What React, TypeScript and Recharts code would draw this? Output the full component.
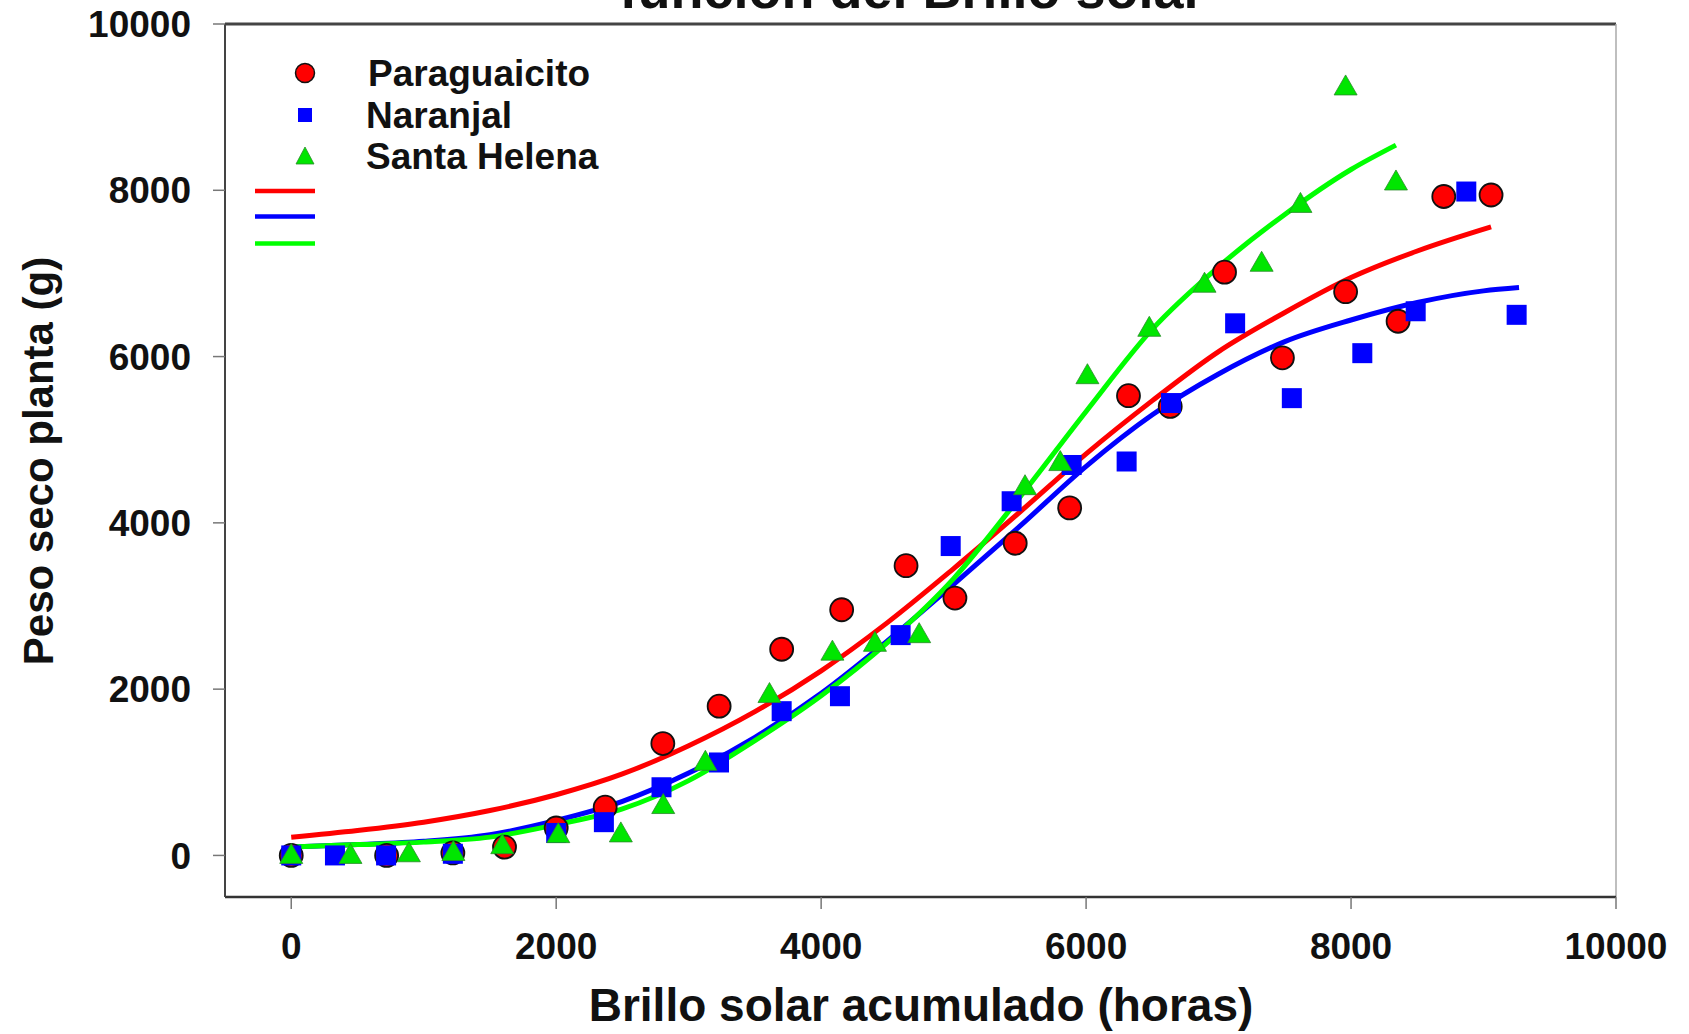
import React from 'react';
import { ComposedChart, Scatter, Line, XAxis, YAxis, ReferenceLine } from 'recharts';

const xTicks = [0, 2000, 4000, 6000, 8000, 10000];
const yTicks = [0, 2000, 4000, 6000, 8000, 10000];

const seriesNames = ['Paraguaicito', 'Naranjal', 'Santa Helena'];

const paraguaicito = [
  { x: 0, y: 0 }, { x: 720, y: 0 }, { x: 1220, y: 30 }, { x: 1610, y: 100 },
  { x: 2000, y: 330 }, { x: 2370, y: 580 }, { x: 2805, y: 1345 }, { x: 3230, y: 1795 },
  { x: 3702, y: 2480 }, { x: 4155, y: 2955 }, { x: 4641, y: 3485 }, { x: 5010, y: 3095 },
  { x: 5465, y: 3755 }, { x: 5876, y: 4180 }, { x: 6320, y: 5530 }, { x: 6635, y: 5400 },
  { x: 7045, y: 7015 }, { x: 7482, y: 5985 }, { x: 7959, y: 6780 }, { x: 8355, y: 6425 },
  { x: 8700, y: 7925 }, { x: 9057, y: 7943 },
];

const naranjal = [
  { x: 0, y: 0 }, { x: 330, y: 0 }, { x: 716, y: 0 }, { x: 1220, y: 20 },
  { x: 2000, y: 270 }, { x: 2360, y: 400 }, { x: 2795, y: 820 }, { x: 3229, y: 1118 },
  { x: 3702, y: 1735 }, { x: 4142, y: 1915 }, { x: 4600, y: 2650 }, { x: 4978, y: 3721 },
  { x: 5438, y: 4260 }, { x: 5891, y: 4696 }, { x: 6306, y: 4738 }, { x: 6641, y: 5441 },
  { x: 7125, y: 6400 }, { x: 7553, y: 5500 }, { x: 8085, y: 6041 }, { x: 8488, y: 6545 },
  { x: 8870, y: 7985 }, { x: 9250, y: 6502 },
];

const santaHelena = [
  { x: 0, y: 0 }, { x: 447, y: 0 }, { x: 888, y: 20 }, { x: 1224, y: 35 },
  { x: 1593, y: 117 }, { x: 2016, y: 250 }, { x: 2488, y: 259 }, { x: 2808, y: 600 },
  { x: 3126, y: 1120 }, { x: 3610, y: 1935 }, { x: 4085, y: 2445 }, { x: 4406, y: 2551 },
  { x: 4740, y: 2655 }, { x: 5539, y: 4435 }, { x: 5805, y: 4725 }, { x: 6010, y: 5770 },
  { x: 6477, y: 6340 }, { x: 6894, y: 6870 }, { x: 7325, y: 7122 }, { x: 7618, y: 7830 },
  { x: 7959, y: 9243 }, { x: 8339, y: 8100 },
];

const fitParaguaicito = [
  { x: 0, y: 220 }, { x: 500, y: 300 }, { x: 1000, y: 400 }, { x: 1500, y: 540 },
  { x: 2000, y: 730 }, { x: 2500, y: 980 }, { x: 3000, y: 1320 }, { x: 3500, y: 1730 },
  { x: 4000, y: 2220 }, { x: 4500, y: 2800 }, { x: 5000, y: 3450 }, { x: 5500, y: 4130 },
  { x: 6000, y: 4830 }, { x: 6500, y: 5470 }, { x: 7000, y: 6060 }, { x: 7500, y: 6530 },
  { x: 8000, y: 6950 }, { x: 8500, y: 7270 }, { x: 9057, y: 7560 },
];

const fitNaranjal = [
  { x: 0, y: 100 }, { x: 500, y: 130 }, { x: 1000, y: 170 }, { x: 1500, y: 250 },
  { x: 2000, y: 420 }, { x: 2500, y: 650 }, { x: 3000, y: 990 }, { x: 3500, y: 1420 },
  { x: 4000, y: 1950 }, { x: 4500, y: 2580 }, { x: 5000, y: 3260 }, { x: 5500, y: 3960 },
  { x: 6000, y: 4680 }, { x: 6500, y: 5300 }, { x: 7000, y: 5790 }, { x: 7500, y: 6180 },
  { x: 8000, y: 6440 }, { x: 8500, y: 6650 }, { x: 9000, y: 6790 }, { x: 9268, y: 6830 },
];

const fitSantaHelena = [
  { x: 0, y: 100 }, { x: 500, y: 130 }, { x: 1000, y: 160 }, { x: 1500, y: 220 },
  { x: 2000, y: 370 }, { x: 2500, y: 560 }, { x: 3000, y: 900 }, { x: 3500, y: 1380 },
  { x: 4000, y: 1920 }, { x: 4500, y: 2560 }, { x: 5000, y: 3330 }, { x: 5500, y: 4310 },
  { x: 6000, y: 5340 }, { x: 6500, y: 6330 }, { x: 7000, y: 7080 }, { x: 7500, y: 7710 },
  { x: 8000, y: 8250 }, { x: 8339, y: 8543 },
];

const FONT = '"Liberation Sans", Arial, Helvetica, sans-serif';
const RED = '#ff0000';
const BLUE = '#0000ff';
const GREEN = '#00e600';
const GREEN_LINE = '#00ff00';

const CircleShape = (props: any) => {
  const { cx, cy } = props;
  if (cx == null || cy == null) return null;
  return <circle cx={cx} cy={cy} r={11.5} fill={RED} stroke="#111" strokeWidth={1.8} />;
};
const SquareShape = (props: any) => {
  const { cx, cy } = props;
  if (cx == null || cy == null) return null;
  const s = 20;
  return <rect x={cx - s / 2} y={cy - s / 2} width={s} height={s} fill={BLUE} />;
};
const TriangleShape = (props: any) => {
  const { cx, cy } = props;
  if (cx == null || cy == null) return null;
  const w = 23, h = 20;
  return (
    <polygon
      points={`${cx},${cy - h * 0.6} ${cx - w / 2},${cy + h * 0.4} ${cx + w / 2},${cy + h * 0.4}`}
      fill={GREEN}
      stroke="#2a8a2a"
      strokeWidth={0.8}
    />
  );
};

const tickStyle = { fontSize: 37, fontWeight: 700, fill: '#111', fontFamily: FONT };

export default function App() {
  return (
    <div style={{ position: 'absolute', left: 0, top: 0, width: 1689, height: 1034, background: '#fff' }}>
      <ComposedChart
        width={1689}
        height={1034}
        margin={{ top: 24, right: 73, bottom: 0, left: 0 }}
      >
        <XAxis
          type="number"
          dataKey="x"
          domain={[-500, 10000]}
          ticks={xTicks}
          allowDataOverflow
          height={137}
          tickSize={12}
          tickMargin={24}
          axisLine={{ stroke: '#333', strokeWidth: 2.5 }}
          tickLine={{ stroke: '#777', strokeWidth: 1.5 }}
          tick={tickStyle}
        />
        <YAxis
          type="number"
          dataKey="y"
          domain={[-500, 10000]}
          ticks={yTicks}
          allowDataOverflow
          width={225}
          tickSize={12}
          tickMargin={22}
          axisLine={{ stroke: '#444', strokeWidth: 2 }}
          tickLine={{ stroke: '#777', strokeWidth: 1.5 }}
          tick={tickStyle}
        />
        <ReferenceLine y={10000} stroke="#444" strokeWidth={3} />
        <ReferenceLine x={10000} stroke="#aaa" strokeWidth={1.5} />
        <Scatter name={seriesNames[0]} data={paraguaicito} dataKey="y" shape={CircleShape} isAnimationActive={false} />
        <Scatter name={seriesNames[1]} data={naranjal} dataKey="y" shape={SquareShape} isAnimationActive={false} />
        <Scatter name={seriesNames[2]} data={santaHelena} dataKey="y" shape={TriangleShape} isAnimationActive={false} />
        <Line data={fitParaguaicito} dataKey="y" type="monotone" stroke={RED} strokeWidth={5} dot={false} activeDot={false} isAnimationActive={false} />
        <Line data={fitNaranjal} dataKey="y" type="monotone" stroke={BLUE} strokeWidth={5} dot={false} activeDot={false} isAnimationActive={false} />
        <Line data={fitSantaHelena} dataKey="y" type="monotone" stroke={GREEN_LINE} strokeWidth={5} dot={false} activeDot={false} isAnimationActive={false} />
      </ComposedChart>
      <svg
        width={1689}
        height={1034}
        style={{ position: 'absolute', left: 0, top: 0, pointerEvents: 'none' }}
      >
        <text x={912} y={8} textAnchor="middle" fontFamily={FONT} fontWeight={700} fontSize={54} fill="#111">
          función del Brillo solar
        </text>
        <text x={921} y={1021} textAnchor="middle" fontFamily={FONT} fontWeight={700} fontSize={46} fill="#111">
          Brillo solar acumulado (horas)
        </text>
        <text
          x={0}
          y={0}
          transform="translate(53,461) rotate(-90)"
          textAnchor="middle"
          fontFamily={FONT}
          fontWeight={700}
          fontSize={42}
          fill="#111"
        >
          Peso seco planta (g)
        </text>
        {/* legend */}
        <circle cx={305} cy={73} r={9.5} fill={RED} stroke="#111" strokeWidth={1.5} />
        <rect x={298} y={108} width={14} height={14} fill={BLUE} />
        <polygon points="305,147 296,164 314,164" fill={GREEN} stroke="#2a8a2a" strokeWidth={0.8} />
        <text x={368} y={73} dominantBaseline="central" fontFamily={FONT} fontWeight={700} fontSize={37} fill="#111">
          {seriesNames[0]}
        </text>
        <text x={366} y={115} dominantBaseline="central" fontFamily={FONT} fontWeight={700} fontSize={37} fill="#111">
          {seriesNames[1]}
        </text>
        <text x={366} y={156} dominantBaseline="central" fontFamily={FONT} fontWeight={700} fontSize={37} fill="#111">
          {seriesNames[2]}
        </text>
        <line x1={255} x2={315} y1={191} y2={191} stroke={RED} strokeWidth={4.5} />
        <line x1={255} x2={315} y1={216.5} y2={216.5} stroke={BLUE} strokeWidth={4.5} />
        <line x1={255} x2={315} y1={243.5} y2={243.5} stroke={GREEN_LINE} strokeWidth={4.5} />
      </svg>
    </div>
  );
}
